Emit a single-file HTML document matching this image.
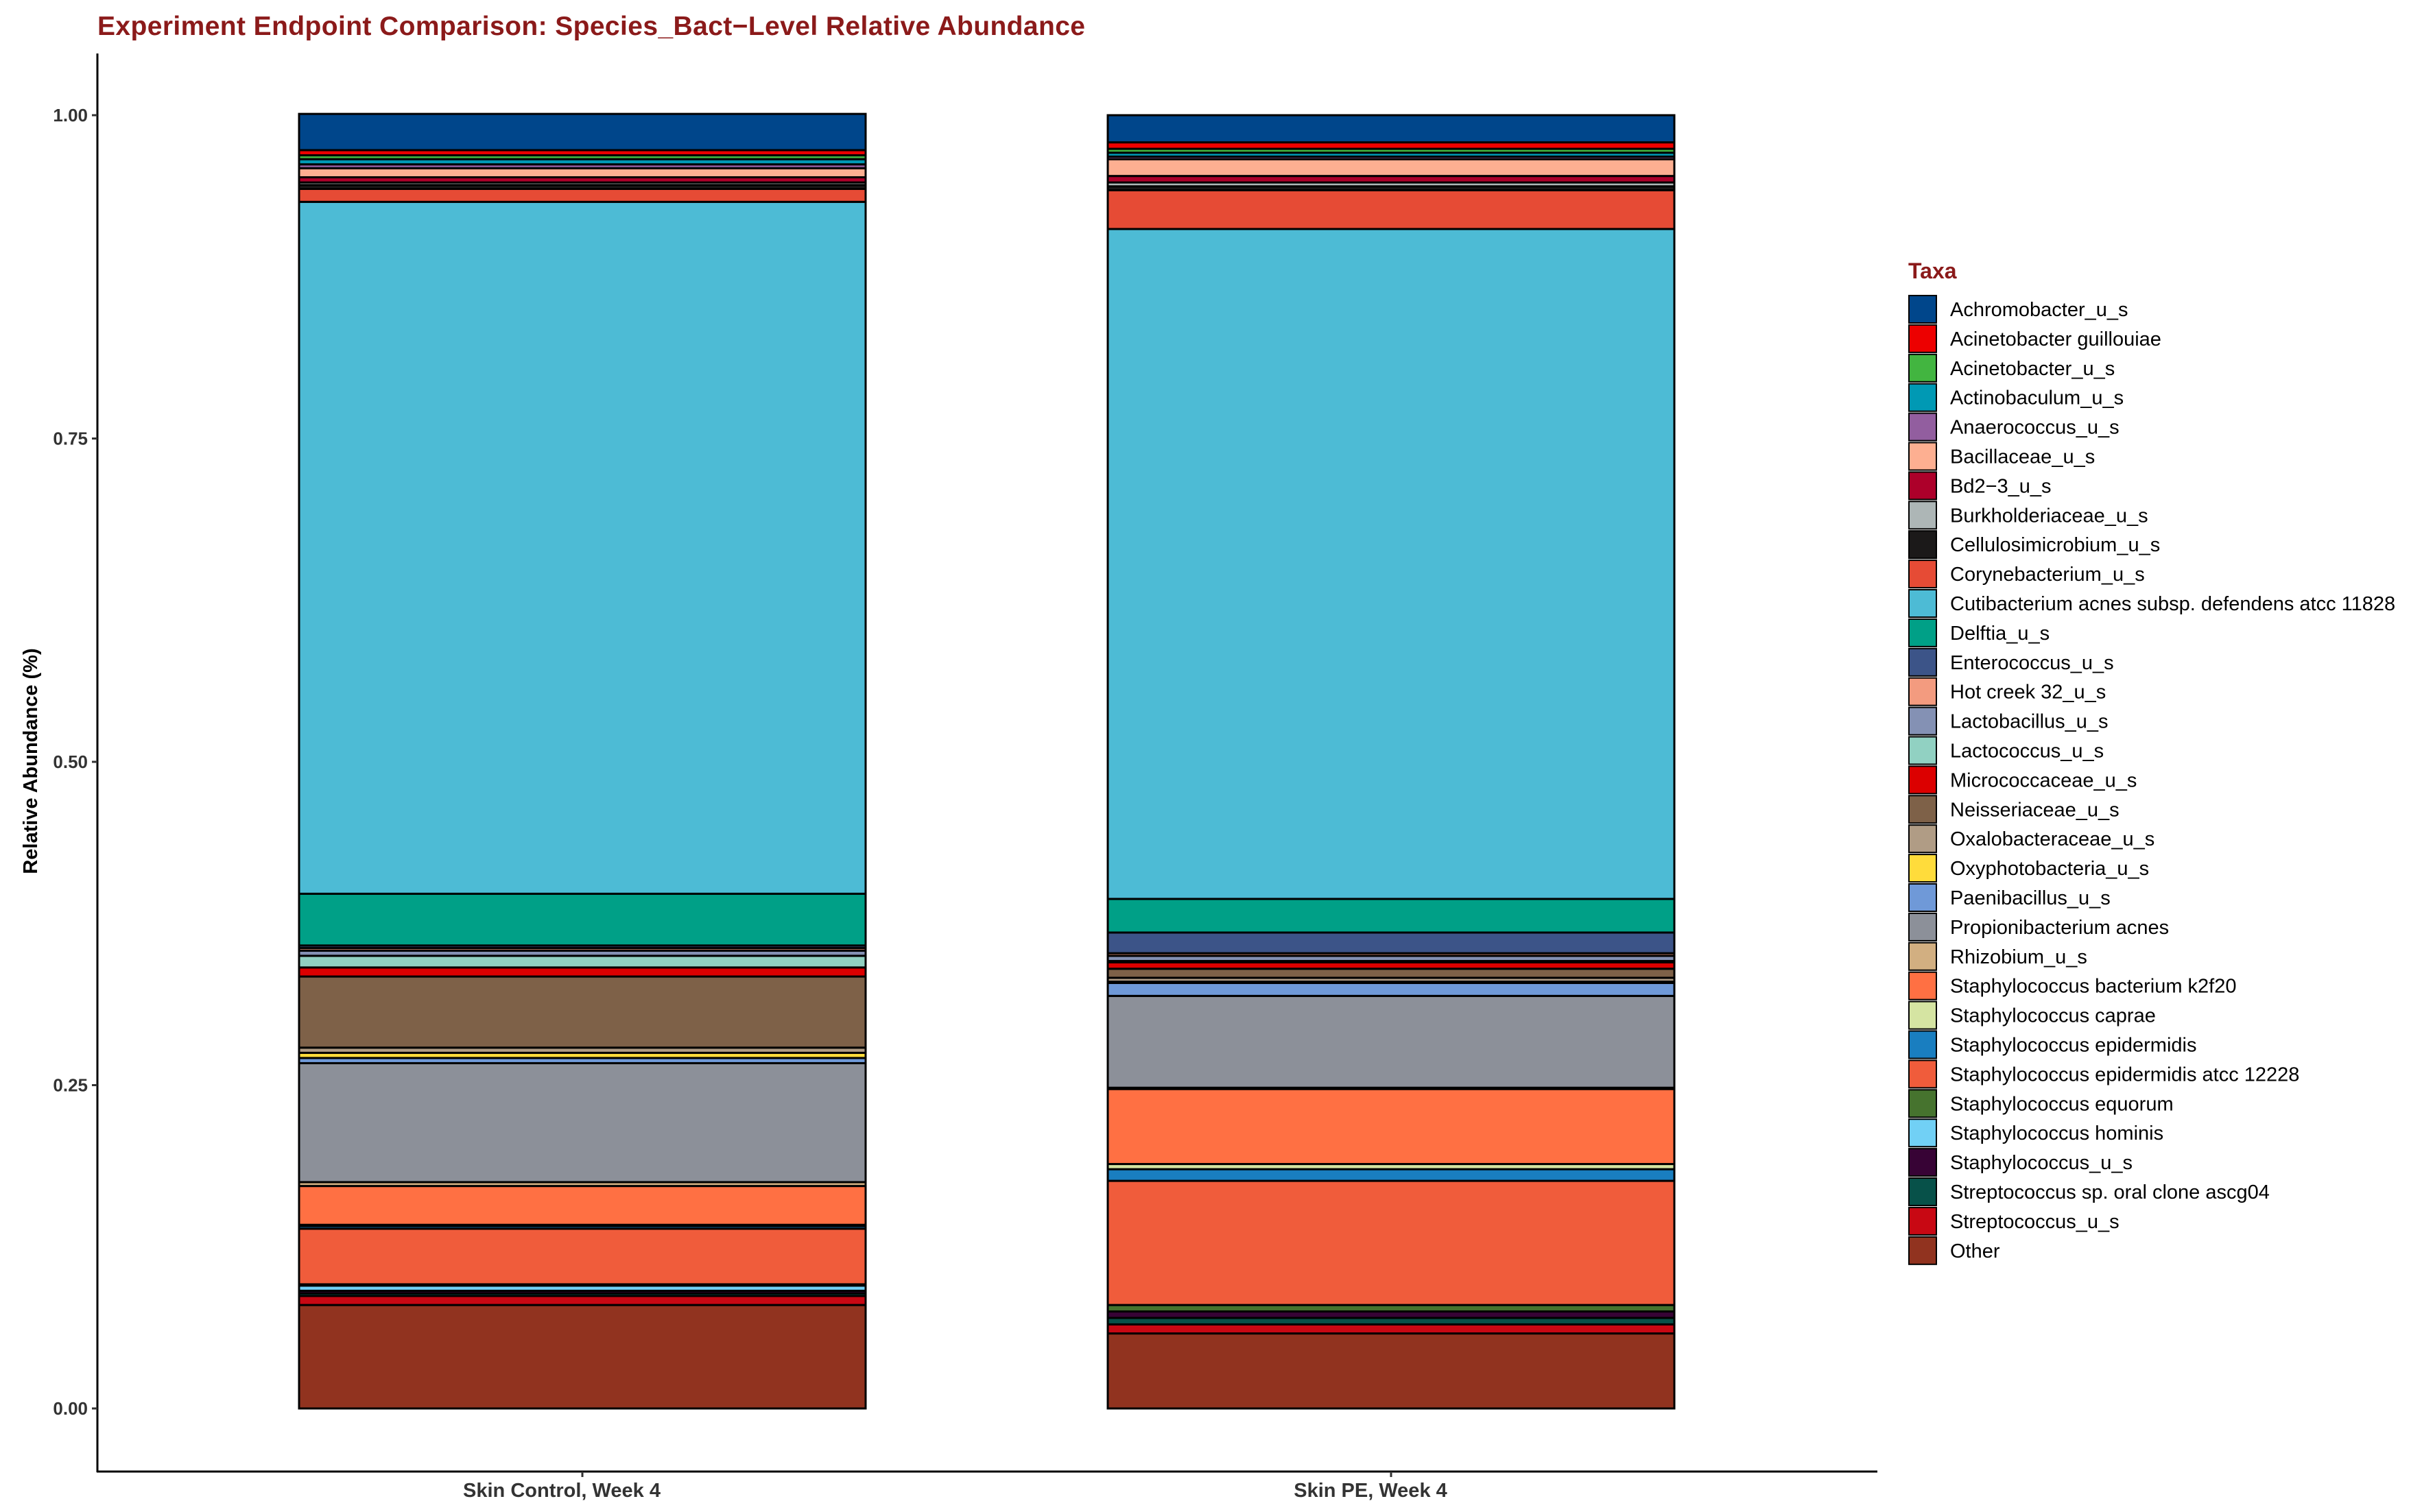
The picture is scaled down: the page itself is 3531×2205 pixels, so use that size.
<!DOCTYPE html>
<html><head><meta charset="utf-8"><style>
html,body{margin:0;padding:0;background:#fff;}
svg{display:block;font-family:"Liberation Sans",Arial,sans-serif;}
</style></head><body>
<svg id="chart" width="3531" height="2205" viewBox="0 0 3531 2205">
<text x="142" y="51" font-size="39" font-weight="bold" fill="#8B1A1A" textLength="1440">Experiment Endpoint Comparison: Species_Bact−Level Relative Abundance</text>
<g id="plot"></g>
<g id="legend"></g>
</svg>
<script>
const categories = ["Skin Control, Week 4", "Skin PE, Week 4"];
const taxa = ["Achromobacter_u_s","Acinetobacter guillouiae","Acinetobacter_u_s","Actinobaculum_u_s","Anaerococcus_u_s","Bacillaceae_u_s","Bd2\u22123_u_s","Burkholderiaceae_u_s","Cellulosimicrobium_u_s","Corynebacterium_u_s","Cutibacterium acnes subsp. defendens atcc 11828","Delftia_u_s","Enterococcus_u_s","Hot creek 32_u_s","Lactobacillus_u_s","Lactococcus_u_s","Micrococcaceae_u_s","Neisseriaceae_u_s","Oxalobacteraceae_u_s","Oxyphotobacteria_u_s","Paenibacillus_u_s","Propionibacterium acnes","Rhizobium_u_s","Staphylococcus bacterium k2f20","Staphylococcus caprae","Staphylococcus epidermidis","Staphylococcus epidermidis atcc 12228","Staphylococcus equorum","Staphylococcus hominis","Staphylococcus_u_s","Streptococcus sp. oral clone ascg04","Streptococcus_u_s","Other"];
const colors = ["#00468B","#ED0000","#42B540","#0099B4","#925E9F","#FDAF91","#AD002A","#ADB6B6","#1B1919","#E64B35","#4DBBD5","#00A087","#3C5488","#F39B7F","#8491B4","#91D1C2","#DC0000","#7E6148","#B09C85","#FFDC3B","#6F99D8","#8C9099","#D2AF81","#FF7043","#D5E4A2","#197EC0","#F05C3B","#46732E","#71D0F5","#370335","#075149","#C80813","#91331F"];
const controlValues = [0.028,0.004,0.003,0.004,0.003,0.007,0.004,0.002,0.003,0.010,0.535,0.040,0.002,0.002,0.004,0.009,0.007,0.055,0.004,0.004,0.004,0.092,0.003,0.030,0.001,0.002,0.043,0.001,0.004,0.002,0.002,0.007,0.080];
const peValues = [0.021,0.005,0.003,0.003,0.002,0.013,0.005,0.003,0.003,0.030,0.518,0.026,0.016,0.002,0.004,0.001,0.005,0.007,0.003,0.001,0.010,0.071,0.001,0.058,0.004,0.009,0.096,0.005,0.000,0.005,0.005,0.007,0.058];
const yTicks = [0, 0.25, 0.5, 0.75, 1.0];
const yTickLabels = ["0.00","0.25","0.50","0.75","1.00"];
const series = [controlValues, peValues];

const NS = "http://www.w3.org/2000/svg";
const Y0 = 2054, Y1 = 168;
function yScale(v){ return Y0 - v*(Y0-Y1); }
const barLefts = [436, 1615], barW = 826;
function xScale(i){ return barLefts[0] + i*(barLefts[1]-barLefts[0]); }
function mk(tag, attrs, parent){ const e=document.createElementNS(NS,tag); for(const k in attrs) e.setAttribute(k,attrs[k]); parent.appendChild(e); return e; }
const plot = document.getElementById('plot');
const legend = document.getElementById('legend');

const yAxis = mk('line',{x1:142,y1:78,x2:142,y2:2147,stroke:'#000','stroke-width':3},plot);


const xAxis = mk('line',{x1:141,y1:2146,x2:2737,y2:2146,stroke:'#000','stroke-width':3},plot);



yTicks.forEach((t,i)=>{
  const y = yScale(t);
  const tk = mk('line',{x1:134,y1:y,x2:142,y2:y,stroke:'#333','stroke-width':3},plot);
  
  
  const lb = mk('text',{x:128,y:y+9,'text-anchor':'end','font-size':26,'font-weight':'bold',fill:'#333'},plot);
  lb.textContent = yTickLabels[i];
  
  
});
const yt = mk('text',{x:0,y:0,transform:'translate(54,1110) rotate(-90)','text-anchor':'middle','font-size':29,'font-weight':'bold',fill:'#000'},plot);
yt.textContent = 'Relative Abundance (%)';



categories.forEach((c,ci)=>{
  const x = xScale(ci);
  let cum = 0;
  const vals = series[ci];
  for(let k=vals.length-1;k>=0;k--){
    const v = vals[k];
    const yTop = yScale(cum+v), yBot = yScale(cum);
    const r = mk('rect',{x:x,y:yTop,width:barW,height:Math.max(0,yBot-yTop),fill:colors[k],stroke:'#000','stroke-width':3},plot);
    
    
    cum += v;
  }
  const cx = x + barW/2;
  const tk = mk('line',{x1:cx,y1:2146,x2:cx,y2:2154,stroke:'#333','stroke-width':3},plot);
  
  
  const lb = mk('text',{x:cx-30,y:2183,'text-anchor':'middle','font-size':29,'font-weight':'bold',fill:'#333'},plot);
  lb.textContent = c;
  
  
});

const lt = mk('text',{x:2782,y:406,'font-size':32,'font-weight':'bold',fill:'#8B1A1A'},legend);
lt.textContent = 'Taxa';


taxa.forEach((t,i)=>{
  const cy = 451 + i*42.9;
  const r = mk('rect',{x:2783,y:cy-20,width:40,height:40,fill:colors[i],stroke:'#000','stroke-width':2},legend);
  
  
  const tx = mk('text',{x:2843,y:cy+10,'font-size':29,fill:'#000'},legend);
  tx.textContent = t;
  
  
});
</script>
</body></html>
